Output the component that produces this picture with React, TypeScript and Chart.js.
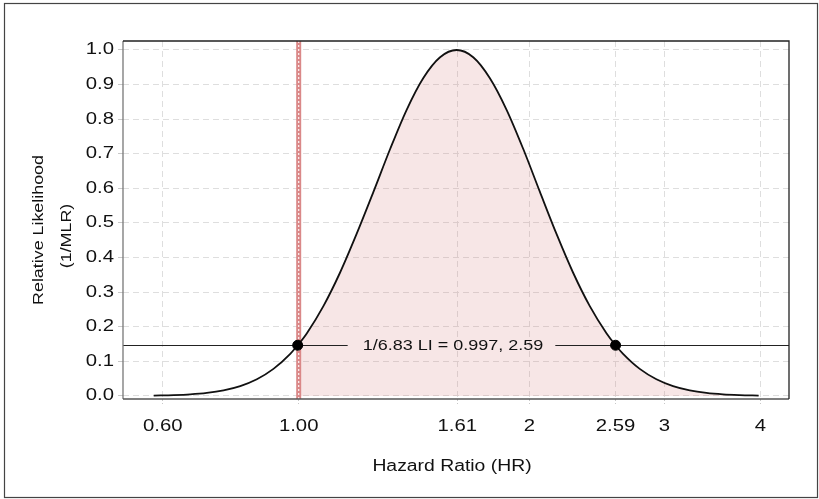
import React, { useEffect, useRef } from 'react';
import { Chart, registerables } from 'chart.js';

Chart.register(...registerables);

// Likelihood curve (hazard ratio, relative likelihood)
const hrValues = [
  0.647, 0.687, 0.722, 0.759, 0.798, 0.839, 0.882, 0.927, 0.975, 0.997, 1.0,
  1.025, 1.077, 1.132, 1.19, 1.252, 1.316, 1.383, 1.454, 1.529, 1.607,
  1.689, 1.775, 1.867, 1.963, 2.063, 2.169, 2.28, 2.397, 2.52, 2.59,
  2.649, 2.785, 2.928, 3.078, 3.236, 3.402, 3.576, 3.76, 3.98,
];
const likelihood = [
  0.0009, 0.0023, 0.0045, 0.0087, 0.0161, 0.0284, 0.0481, 0.078, 0.1215, 0.1464, 0.1498,
  0.1813, 0.2595, 0.356, 0.4682, 0.5904, 0.7137, 0.8272, 0.9191, 0.9791, 1.0,
  0.9791, 0.9191, 0.8272, 0.7137, 0.5904, 0.4682, 0.356, 0.2595, 0.1813, 0.1464,
  0.1215, 0.078, 0.0481, 0.0284, 0.0161, 0.0087, 0.0045, 0.0023, 0.0009,
];

const xTickValues = [0.665, 1, 1.61, 2, 2.59, 3, 4];
const xTickLabels = ['0.60', '1.00', '1.61', '2', '2.59', '3', '4'];
const yTickValues = [0, 0.1, 0.2, 0.3, 0.4, 0.5, 0.6, 0.7, 0.8, 0.9, 1.0];

const nullHR = 1.0;
const mlr = '6.83';
const liLevel = 0.1464;
const liBounds = [0.997, 2.59];

const FONT = '"Liberation Sans", Arial, Helvetica, sans-serif';

// the original typeface is a wide grotesque; stretch Liberation Sans to match
const wideText = (ctx: CanvasRenderingContext2D, text: string, x: number, y: number,
  size: number, sx: number, align: CanvasTextAlign, angle = 0) => {
  ctx.save();
  ctx.translate(x, y);
  if (angle) ctx.rotate(angle);
  ctx.scale(sx, 1);
  ctx.font = `${size}px ${FONT}`;
  ctx.fillStyle = '#111';
  ctx.textAlign = align;
  ctx.textBaseline = 'middle';
  ctx.fillText(text, 0, 0);
  ctx.restore();
};

const decorPlugin = {
  id: 'likelihoodDecor',
  beforeDatasetDraw(chart: any, args: any) {
    if (args.index !== 1) return;
    const { ctx, chartArea: a, scales } = chart;
    ctx.save();
    // null value band
    const nx = scales.x.getPixelForValue(nullHR);
    ctx.fillStyle = '#da8888';
    ctx.fillRect(nx - 2.5, a.top, 5, a.bottom - a.top);
    ctx.strokeStyle = 'rgba(255,255,255,0.9)';
    ctx.lineWidth = 1.2;
    ctx.setLineDash([2, 2]);
    ctx.beginPath();
    ctx.moveTo(nx, a.top);
    ctx.lineTo(nx, a.bottom);
    ctx.stroke();
    ctx.setLineDash([]);

    // support interval line with its label
    const ly = Math.round(scales.y.getPixelForValue(liLevel)) + 0.5;
    const text = `1/${mlr} LI = ${liBounds[0]}, ${liBounds[1]}`;
    const sx = 1.2;
    ctx.font = `15px ${FONT}`;
    const w = ctx.measureText(text).width * sx;
    const cx = (a.left + a.right) / 2 - 3;
    ctx.strokeStyle = '#222';
    ctx.lineWidth = 1;
    ctx.beginPath();
    ctx.moveTo(a.left, ly);
    ctx.lineTo(cx - w / 2 - 15, ly);
    ctx.moveTo(cx + w / 2 + 12, ly);
    ctx.lineTo(a.right, ly);
    ctx.stroke();
    ctx.restore();
    wideText(ctx, text, cx, ly, 15, sx, 'center');
  },
  afterDraw(chart: any) {
    const { ctx, chartArea: a, scales } = chart;
    ctx.save();
    ctx.lineWidth = 1.3;
    ctx.strokeStyle = '#777';
    ctx.beginPath();
    ctx.moveTo(a.left, a.top);
    ctx.lineTo(a.left, a.bottom);
    ctx.stroke();
    ctx.strokeStyle = '#555';
    ctx.beginPath();
    ctx.moveTo(a.left, a.bottom);
    ctx.lineTo(a.right, a.bottom);
    ctx.stroke();
    ctx.strokeStyle = '#222';
    ctx.beginPath();
    ctx.moveTo(a.left, a.top);
    ctx.lineTo(a.right, a.top);
    ctx.lineTo(a.right, a.bottom);
    ctx.stroke();

    // outer frame
    ctx.strokeStyle = '#444';
    ctx.lineWidth = 1.2;
    ctx.strokeRect(4.5, 3.5, 813, 494);
    ctx.restore();

    // tick labels from the library's ticks
    scales.x.ticks.forEach((t: any, i: number) => {
      const px = scales.x.getPixelForValue(t.value);
      wideText(ctx, xTickLabels[i], px, 427, 16, 1.27, 'center');
    });
    scales.y.ticks.forEach((t: any) => {
      const py = scales.y.getPixelForValue(t.value);
      wideText(ctx, Number(t.value).toFixed(1), 114, py, 16, 1.27, 'right');
    });

    // axis titles
    wideText(ctx, 'Hazard Ratio (HR)', 452, 467, 16, 1.21, 'center');
    wideText(ctx, 'Relative Likelihood', 39, 230, 15, 1.19, 'center', -Math.PI / 2);
    wideText(ctx, '(1/MLR)', 67, 236, 15, 1.19, 'center', -Math.PI / 2);
  },
};

const App: React.FC = () => {
  const canvasRef = useRef<HTMLCanvasElement>(null);

  useEffect(() => {
    if (!canvasRef.current) return;
    const curve = hrValues.map((x, i) => ({ x, y: likelihood[i] }));
    const shaded = curve.filter(p => p.x >= nullHR);

    const chart = new Chart(canvasRef.current, {
      type: 'line',
      data: {
        datasets: [
          {
            // interval end points
            type: 'scatter',
            data: liBounds.map(x => ({ x, y: liLevel })),
            pointRadius: 5,
            pointBackgroundColor: '#000',
            pointBorderColor: '#000',
            showLine: false,
          },
          {
            data: curve,
            borderColor: '#111',
            borderWidth: 1.8,
            pointRadius: 0,
            cubicInterpolationMode: 'monotone',
            fill: false,
          },
          {
            data: shaded,
            borderWidth: 0,
            pointRadius: 0,
            cubicInterpolationMode: 'monotone',
            backgroundColor: 'rgba(212, 120, 120, 0.19)',
            fill: 'origin',
          },
        ],
      } as any,
      options: {
        animation: false,
        responsive: true,
        maintainAspectRatio: false,
        layout: { padding: { top: 41, right: 30, left: 0, bottom: 0 } },
        plugins: {
          legend: { display: false },
          tooltip: { enabled: false },
        },
        scales: {
          x: {
            type: 'logarithmic',
            min: 0.59,
            max: 4.36,
            afterBuildTicks: (s: any) => {
              s.ticks = xTickValues.map(value => ({ value }));
            },
            afterFit: (s: any) => {
              s.height = 100;
            },
            ticks: { display: false, autoSkip: false },
            grid: {
              color: '#dedede',
              lineWidth: 1,
              tickLength: 5,
              tickColor: '#c8c8c8',
              tickBorderDash: [2, 2],
            },
            border: { display: false, dash: [6, 4] },
          },
          y: {
            min: -0.009,
            max: 1.026,
            afterBuildTicks: (s: any) => {
              s.ticks = yTickValues.map(value => ({ value }));
            },
            afterFit: (s: any) => {
              s.width = 123;
            },
            ticks: { display: false },
            grid: {
              color: '#dedede',
              lineWidth: 1,
              tickLength: 5,
              tickColor: '#c8c8c8',
            },
            border: { display: false, dash: [6, 4] },
          },
        },
      } as any,
      plugins: [decorPlugin],
    });

    return () => chart.destroy();
  }, []);

  return (
    <div style={{ position: 'absolute', left: 0, top: 0, width: 819, height: 499, background: '#fff' }}>
      <canvas ref={canvasRef} />
    </div>
  );
};

export default App;
